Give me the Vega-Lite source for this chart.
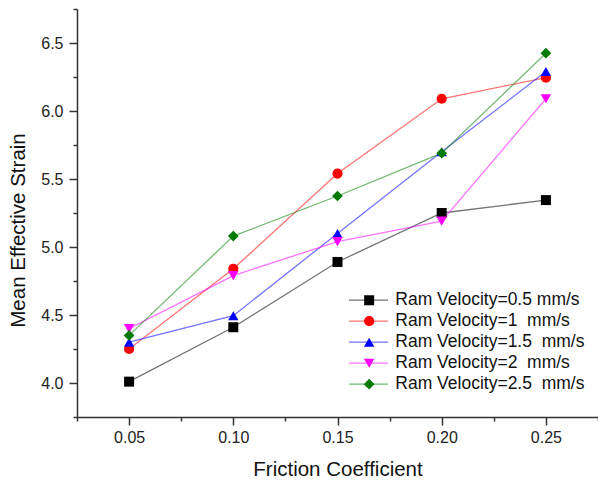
{
  "$schema": "https://vega.github.io/schema/vega-lite/v6.json",
  "width": 521,
  "height": 408,
  "autosize": "none",
  "padding": {"left": 77, "top": 9, "right": 0, "bottom": 64},
  "background": "white",
  "config": {"view": {"stroke": null}},
  "data": {
    "values": [
      {"friction": 0.05, "velocity": 0.5, "series": "Ram Velocity=0.5 mm/s", "strain": 4.01},
      {"friction": 0.10, "velocity": 0.5, "series": "Ram Velocity=0.5 mm/s", "strain": 4.41},
      {"friction": 0.15, "velocity": 0.5, "series": "Ram Velocity=0.5 mm/s", "strain": 4.89},
      {"friction": 0.20, "velocity": 0.5, "series": "Ram Velocity=0.5 mm/s", "strain": 5.25},
      {"friction": 0.25, "velocity": 0.5, "series": "Ram Velocity=0.5 mm/s", "strain": 5.345},
      {"friction": 0.05, "velocity": 1, "series": "Ram Velocity=1\u00a0 mm/s", "strain": 4.25},
      {"friction": 0.10, "velocity": 1, "series": "Ram Velocity=1\u00a0 mm/s", "strain": 4.84},
      {"friction": 0.15, "velocity": 1, "series": "Ram Velocity=1\u00a0 mm/s", "strain": 5.54},
      {"friction": 0.20, "velocity": 1, "series": "Ram Velocity=1\u00a0 mm/s", "strain": 6.09},
      {"friction": 0.25, "velocity": 1, "series": "Ram Velocity=1\u00a0 mm/s", "strain": 6.245},
      {"friction": 0.05, "velocity": 1.5, "series": "Ram Velocity=1.5\u00a0 mm/s", "strain": 4.30},
      {"friction": 0.10, "velocity": 1.5, "series": "Ram Velocity=1.5\u00a0 mm/s", "strain": 4.495},
      {"friction": 0.15, "velocity": 1.5, "series": "Ram Velocity=1.5\u00a0 mm/s", "strain": 5.10},
      {"friction": 0.20, "velocity": 1.5, "series": "Ram Velocity=1.5\u00a0 mm/s", "strain": 5.70},
      {"friction": 0.25, "velocity": 1.5, "series": "Ram Velocity=1.5\u00a0 mm/s", "strain": 6.29},
      {"friction": 0.05, "velocity": 2, "series": "Ram Velocity=2\u00a0 mm/s", "strain": 4.40},
      {"friction": 0.10, "velocity": 2, "series": "Ram Velocity=2\u00a0 mm/s", "strain": 4.79},
      {"friction": 0.15, "velocity": 2, "series": "Ram Velocity=2\u00a0 mm/s", "strain": 5.04},
      {"friction": 0.20, "velocity": 2, "series": "Ram Velocity=2\u00a0 mm/s", "strain": 5.19},
      {"friction": 0.25, "velocity": 2, "series": "Ram Velocity=2\u00a0 mm/s", "strain": 6.09},
      {"friction": 0.05, "velocity": 2.5, "series": "Ram Velocity=2.5\u00a0 mm/s", "strain": 4.35},
      {"friction": 0.10, "velocity": 2.5, "series": "Ram Velocity=2.5\u00a0 mm/s", "strain": 5.08},
      {"friction": 0.15, "velocity": 2.5, "series": "Ram Velocity=2.5\u00a0 mm/s", "strain": 5.375},
      {"friction": 0.20, "velocity": 2.5, "series": "Ram Velocity=2.5\u00a0 mm/s", "strain": 5.69},
      {"friction": 0.25, "velocity": 2.5, "series": "Ram Velocity=2.5\u00a0 mm/s", "strain": 6.425}
    ]
  },
  "encoding": {
    "x": {
      "field": "friction",
      "type": "quantitative",
      "scale": {"domain": [0.025, 0.275], "nice": false, "zero": false},
      "axis": {
        "title": "Friction Coefficient",
        "values": [0.025, 0.05, 0.075, 0.1, 0.125, 0.15, 0.175, 0.2, 0.225, 0.25, 0.275],
        "labelExpr": "abs(datum.value*20 - round(datum.value*20)) < 0.001 ? format(datum.value, '.2f') : ''",
        "tickSize": {"condition": {"test": "abs(datum.value*20 - round(datum.value*20)) < 0.001", "value": 8}, "value": 4},
        "grid": false,
        "domainColor": "#333",
        "domainWidth": 1.5,
        "tickColor": "#333",
        "tickWidth": 1.5,
        "labelFont": "Liberation Sans",
        "labelFontSize": 16,
        "labelColor": "#222",
        "labelPadding": 4,
        "labelFlush": false,
        "labelOverlap": false,
        "titleFont": "Liberation Sans",
        "titleFontSize": 20.5,
        "titleFontWeight": "normal",
        "titleColor": "#111",
        "titleBaseline": "middle",
        "titleY": 52
      }
    },
    "y": {
      "field": "strain",
      "type": "quantitative",
      "scale": {"domain": [3.75, 6.75], "nice": false, "zero": false},
      "axis": {
        "title": "Mean Effective Strain",
        "values": [3.75, 4.0, 4.25, 4.5, 4.75, 5.0, 5.25, 5.5, 5.75, 6.0, 6.25, 6.5, 6.75],
        "labelExpr": "abs(datum.value*2 - round(datum.value*2)) < 0.001 ? format(datum.value, '.1f') : ''",
        "tickSize": {"condition": {"test": "abs(datum.value*2 - round(datum.value*2)) < 0.001", "value": 8}, "value": 4},
        "grid": false,
        "domainColor": "#333",
        "domainWidth": 1.5,
        "tickColor": "#333",
        "tickWidth": 1.5,
        "labelFont": "Liberation Sans",
        "labelFontSize": 16,
        "labelColor": "#222",
        "labelPadding": 6,
        "labelFlush": false,
        "labelOverlap": false,
        "titleFont": "Liberation Sans",
        "titleFontSize": 20.5,
        "titleFontWeight": "normal",
        "titleColor": "#111",
        "titleAngle": 270,
        "titleAlign": "center",
        "titleBaseline": "middle",
        "titleX": -59,
        "titleY": 221
      }
    }
  },
  "layer": [
    {
      "mark": {"type": "line", "strokeWidth": 1.3, "opacity": 0.55},
      "encoding": {
        "stroke": {
          "field": "velocity",
          "type": "nominal",
          "scale": {"domain": [0.5, 1, 1.5, 2, 2.5], "range": ["#000000", "#ff0000", "#0000ff", "#ff00ff", "#008000"]},
          "legend": {
            "orient": "none",
            "legendX": 271,
            "legendY": 281,
            "title": null,
            "padding": 0,
            "rowPadding": 0,
            "clipHeight": 20.4,
            "symbolType": "stroke",
            "symbolSize": 1521,
            "symbolStrokeWidth": 1.3,
            "symbolOpacity": 0.55,
            "labelExpr": "''",
            "labelFontSize": 16
          }
        }
      }
    },
    {
      "mark": {"type": "point", "filled": true, "opacity": 1},
      "encoding": {
        "fill": {
          "field": "series",
          "type": "nominal",
          "scale": {
            "domain": ["Ram Velocity=0.5 mm/s", "Ram Velocity=1\u00a0 mm/s", "Ram Velocity=1.5\u00a0 mm/s", "Ram Velocity=2\u00a0 mm/s", "Ram Velocity=2.5\u00a0 mm/s"],
            "range": ["#000000", "#ff0000", "#0000ff", "#ff00ff", "#007a00"]
          },
          "legend": {
            "orient": "none",
            "legendX": 283.4,
            "legendY": 281,
            "title": null,
            "padding": 0,
            "rowPadding": 0,
            "clipHeight": 20.4,
            "symbolStrokeWidth": 0,
            "symbolOpacity": 1,
            "labelOffset": 17.4,
            "labelFont": "Liberation Sans",
            "labelFontSize": 17.5,
            "labelColor": "#111",
            "labelLimit": 0
          }
        },
        "shape": {
          "field": "series",
          "type": "nominal",
          "scale": {
            "domain": ["Ram Velocity=0.5 mm/s", "Ram Velocity=1\u00a0 mm/s", "Ram Velocity=1.5\u00a0 mm/s", "Ram Velocity=2\u00a0 mm/s", "Ram Velocity=2.5\u00a0 mm/s"],
            "range": ["square", "circle", "triangle-up", "triangle-down", "diamond"]
          },
          "legend": {
            "orient": "none",
            "legendX": 283.4,
            "legendY": 281,
            "title": null,
            "padding": 0,
            "rowPadding": 0,
            "clipHeight": 20.4,
            "symbolStrokeWidth": 0,
            "symbolOpacity": 1,
            "labelOffset": 17.4,
            "labelFont": "Liberation Sans",
            "labelFontSize": 17.5,
            "labelColor": "#111",
            "labelLimit": 0
          }
        },
        "size": {
          "field": "series",
          "type": "nominal",
          "scale": {
            "domain": ["Ram Velocity=0.5 mm/s", "Ram Velocity=1\u00a0 mm/s", "Ram Velocity=1.5\u00a0 mm/s", "Ram Velocity=2\u00a0 mm/s", "Ram Velocity=2.5\u00a0 mm/s"],
            "range": [100, 115, 125, 125, 230]
          },
          "legend": {
            "orient": "none",
            "legendX": 283.4,
            "legendY": 281,
            "title": null,
            "padding": 0,
            "rowPadding": 0,
            "clipHeight": 20.4,
            "symbolStrokeWidth": 0,
            "symbolOpacity": 1,
            "labelOffset": 17.4,
            "labelFont": "Liberation Sans",
            "labelFontSize": 17.5,
            "labelColor": "#111",
            "labelLimit": 0
          }
        }
      }
    }
  ]
}
